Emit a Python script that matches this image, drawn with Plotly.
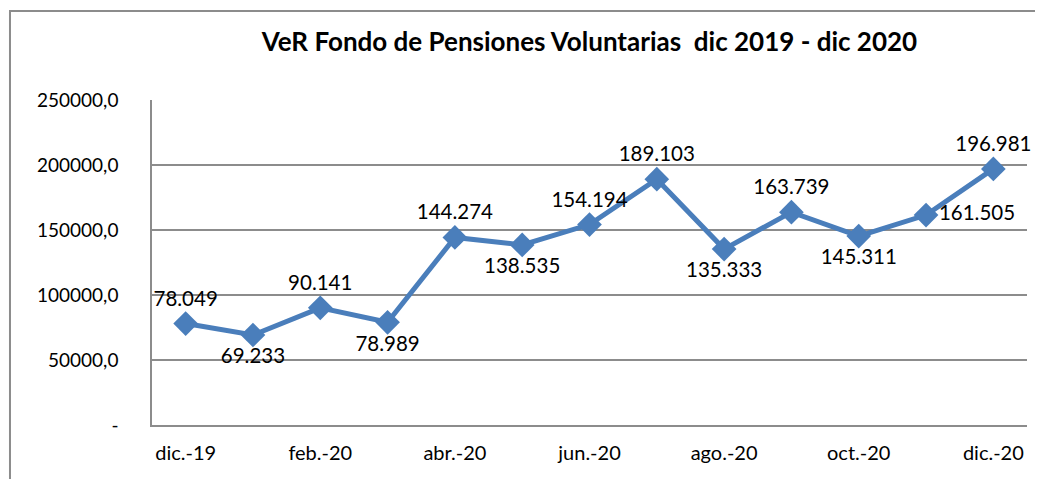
import plotly.graph_objects as go

months = ["dic.-19", "ene.-20", "feb.-20", "mar.-20", "abr.-20", "may.-20", "jun.-20",
          "jul.-20", "ago.-20", "sep.-20", "oct.-20", "nov.-20", "dic.-20"]
values = [78049, 69233, 90141, 78989, 144274, 138535, 154194,
          189103, 135333, 163739, 145311, 161505, 196981]
labels = ["78.049", "69.233", "90.141", "78.989", "144.274", "138.535", "154.194",
          "189.103", "135.333", "163.739", "145.311", "161.505", "196.981"]
label_pos = ["top center", "bottom center", "top center", "bottom center", "top center",
             "bottom center", "top center", "top center", "bottom center", "top center",
             "bottom center", "middle right", "top center"]
x_ticks = ["dic.-19", "feb.-20", "abr.-20", "jun.-20", "ago.-20", "oct.-20", "dic.-20"]
y_ticks = [0, 50000, 100000, 150000, 200000, 250000]
y_ticktext = ["-", "50000,0", "100000,0", "150000,0", "200000,0", "250000,0"]

FONT = "Lato, 'Open Sans', sans-serif"
BLUE = "#4A7EBB"
GRID = "#8C8C8C"

fig = go.Figure()
fig.add_trace(go.Scatter(
    x=months, y=values, mode="lines+markers+text",
    line=dict(color=BLUE, width=5),
    marker=dict(symbol="diamond", size=19, color=BLUE),
    text=labels, textposition=label_pos,
    textfont=dict(family=FONT, size=20.5, color="#000000"),
    cliponaxis=False, hoverinfo="skip",
))

fig.update_layout(
    width=1035, height=471,
    margin=dict(l=144, r=16, t=92, b=54, autoexpand=False),
    paper_bgcolor="white", plot_bgcolor="white",
    showlegend=False,
    title=dict(text="<b>VeR Fondo de Pensiones Voluntarias&nbsp;&nbsp;dic 2019 - dic 2020</b>",
               x=0.5, xref="paper", xanchor="center", y=0.928, yanchor="middle",
               font=dict(family=FONT, size=26, color="#000000")),
    xaxis=dict(type="category", categoryorder="array", categoryarray=months,
               tickmode="array", tickvals=x_ticks, ticktext=x_ticks,
               showgrid=False, showline=True, linecolor=GRID, linewidth=1.5,
               ticks="", tickfont=dict(family=FONT, size=20, color="#000000"),
               range=[-0.5, 12.5], ticklabelstandoff=9, automargin=False),
    yaxis=dict(range=[0, 250000], tickmode="array", tickvals=y_ticks, ticktext=y_ticktext,
               showgrid=True, gridcolor=GRID, gridwidth=1.5,
               showline=True, linecolor=GRID, linewidth=1.5, zeroline=False,
               ticks="", tickfont=dict(family=FONT, size=19, color="#000000"),
               ticklabelstandoff=28, automargin=False),
    shapes=[dict(type="rect", xref="paper", yref="paper",
                 x0=-0.1623, x1=1.2, y0=-0.6, y1=1.2738,
                 line=dict(color="#8C8C8C", width=2), fillcolor="rgba(0,0,0,0)",
                 layer="below")],
)

fig.write_html("out.html")
